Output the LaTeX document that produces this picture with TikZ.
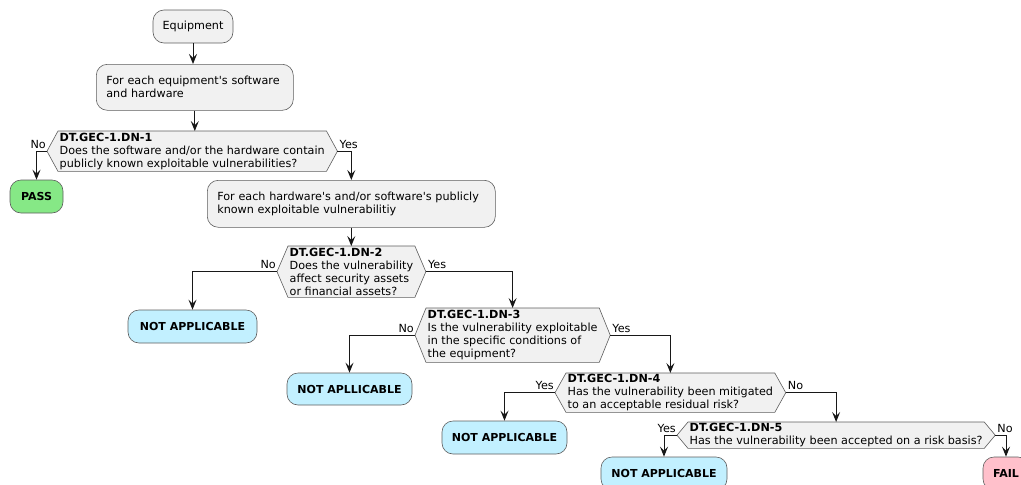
\documentclass[tikz,border=0pt]{standalone}
\usepackage{fontspec}
\setmainfont{DejaVu Sans}
\usetikzlibrary{arrows.meta,backgrounds}

\definecolor{boxfill}{HTML}{F1F1F1}
\definecolor{edge}{HTML}{181818}
\definecolor{passfill}{HTML}{86E886}
\definecolor{nafill}{HTML}{C2F0FF}
\definecolor{failfill}{HTML}{FFC0CB}

\newcommand\txtfont{\fontsize{11.2}{13}\selectfont}
\newcommand\termfont{\fontsize{11}{13}\selectfont\bfseries}

\tikzset{
  base/.style={font=\txtfont, text=black},
  actbox/.style={base, draw=edge!70, line width=0.6pt, fill=boxfill,
    rounded corners=11pt, inner sep=0pt},
  stepbox/.style={actbox, align=left, anchor=north west, inner xsep=10pt, inner ysep=0pt},
  endbox/.style={draw=edge!70, line width=0.6pt, rounded corners=11pt,
    font=\termfont, text=black, inner sep=0pt},
  hexnode/.style={base, align=left, anchor=north west, inner xsep=1.5pt, inner ysep=0pt},
  hexline/.style={draw=edge!70, line width=0.6pt, fill=boxfill},
  arr/.style={draw=edge, line width=1pt, -{Stealth[length=10pt,width=8pt,inset=4pt]}},
  lbl/.style={font=\txtfont, text=black, inner sep=0pt},
}

% hexagonal outline around a decision node, with pointed ends 11pt deep
\newcommand\hexoutline[1]{%
  \path[hexline] (#1.north west) -- (#1.north east) -- ([xshift=11pt]#1.east)
    -- (#1.south east) -- (#1.south west) -- ([xshift=-11pt]#1.west) -- cycle;}

\begin{document}
\begin{tikzpicture}[x=1pt,y=-1pt]
\useasboundingbox (0,0) rectangle (1021,485);
\clip (0,0) rectangle (1021,485);

% activities
\node[actbox, minimum width=80pt, minimum height=33pt] (eq) at (193,26.5) {Equipment};
\node[stepbox, text width=177pt, minimum height=46pt] (fe1) at (96,64)
  {For each equipment\textquotesingle s software\\and hardware};
\node[stepbox, text width=268pt, minimum height=47pt] (fe2) at (207,180)
  {For each hardware\textquotesingle s and/or software\textquotesingle s publicly\\known exploitable vulnerabilitiy};

% decisions
\node[hexnode, minimum height=40pt] (d1) at (58,131)
  {\textbf{DT.GEC-1.DN-1}\\Does the software and/or the hardware contain\\publicly known exploitable vulnerabilities?};
\node[hexnode, minimum height=51pt] (d2) at (288,246)
  {\textbf{DT.GEC-1.DN-2}\\Does the vulnerability\\affect security assets\\or financial assets?};
\node[hexnode, minimum height=54pt] (d3) at (426,308)
  {\textbf{DT.GEC-1.DN-3}\\Is the vulnerability exploitable\\in the specific conditions of\\the equipment?};
\node[hexnode, minimum height=39pt] (d4) at (566,373)
  {\textbf{DT.GEC-1.DN-4}\\Has the vulnerability been mitigated\\to an acceptable residual risk?};
\node[hexnode, minimum height=26pt] (d5) at (688,422)
  {\textbf{DT.GEC-1.DN-5}\\Has the vulnerability been accepted on a risk basis?};

\begin{pgfonlayer}{background}
  \hexoutline{d1}\hexoutline{d2}\hexoutline{d3}\hexoutline{d4}\hexoutline{d5}
\end{pgfonlayer}

% pointed ends of the decisions
\foreach \d in {d1,d2,d3,d4,d5}{
  \coordinate (\d w) at ([xshift=-11pt]\d.west);
  \coordinate (\d e) at ([xshift=11pt]\d.east);
}

% outcomes
\node[endbox, fill=passfill, minimum width=53pt, minimum height=33pt] (pass) at (36.5,196.5) {PASS};
\node[endbox, fill=nafill, minimum width=129pt, minimum height=33pt] (na1) at (192.5,326.5) {NOT APPLICABLE};
\node[endbox, fill=nafill, minimum width=125pt, minimum height=32pt] (na2) at (349.5,389) {NOT APLLICABLE};
\node[endbox, fill=nafill, minimum width=125pt, minimum height=33pt] (na3) at (504.5,437.5) {NOT APPLICABLE};
\node[endbox, fill=nafill, minimum width=126pt, minimum height=33pt] (na4) at (664,473.5) {NOT APPLICABLE};
\node[endbox, fill=failfill, minimum width=46pt, minimum height=33pt] (fail) at (1006,473.5) {FAIL};

% branch labels
\node[lbl, anchor=base east] (l1n) at ([xshift=-1pt,yshift=3pt]d1w) {No};
\node[lbl, anchor=base west] (l1y) at ([xshift=2pt,yshift=3pt]d1e) {Yes};
\node[lbl, anchor=base east] (l2n) at ([xshift=-1pt,yshift=3pt]d2w) {No};
\node[lbl, anchor=base west] (l2y) at ([xshift=2pt,yshift=3pt]d2e) {Yes};
\node[lbl, anchor=base east] (l3n) at ([xshift=-1pt,yshift=3pt]d3w) {No};
\node[lbl, anchor=base west] (l3y) at ([xshift=2pt,yshift=3pt]d3e) {Yes};
\node[lbl, anchor=base east] (l4y) at ([xshift=-1pt,yshift=3pt]d4w) {Yes};
\node[lbl, anchor=base west] (l4n) at ([xshift=2pt,yshift=3pt]d4e) {No};
\node[lbl, anchor=base east] (l5y) at ([xshift=-1pt,yshift=3pt]d5w) {Yes};
\node[lbl, anchor=base west] (l5n) at ([xshift=2pt,yshift=3pt]d5e) {No};

% flow
\draw[arr] (eq) -- (eq |- fe1.north);
\draw[arr] (fe1) -- (fe1 |- d1.north);
\draw[arr] (d1w) -| (pass.north);
\draw[arr] (d1e) -| (fe2.north);
\draw[arr] (fe2) -- (fe2 |- d2.north);
\draw[arr] (d2w) -| (na1.north);
\draw[arr] (d2e) -| (d3.north);
\draw[arr] (d3w) -| (na2.north);
\draw[arr] (d3e) -| (d4.north);
\draw[arr] (d4w) -| (na3.north);
\draw[arr] (d4e) -| (d5.north);
\draw[arr] (d5w) -| (na4.north);
\draw[arr] (d5e) -| (fail.north);
\end{tikzpicture}
\end{document}
